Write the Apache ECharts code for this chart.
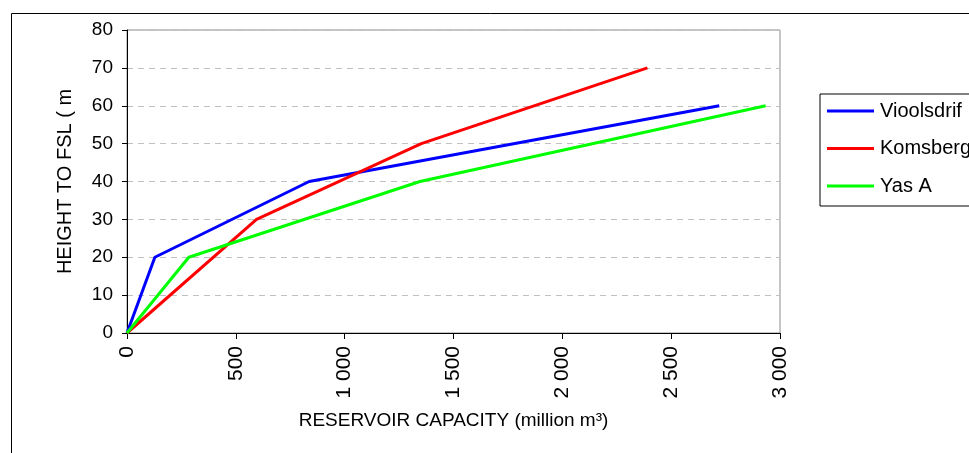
<!DOCTYPE html>
<html>
<head>
<meta charset="utf-8">
<script src="https://cdn.jsdelivr.net/npm/echarts@6/dist/echarts.min.js"></script>
<style>html,body{margin:0;padding:0;background:#fff;}#c{width:969px;height:453px;}</style>
</head>
<body>
<div id="c"></div>
<script>
const seriesNames = ['Vioolsdrif', 'Komsberg', 'Yas A'];
const vioolsdrifCapacity = [0, 128, 837, 2721];
const vioolsdrifHeight = [0, 20, 40, 60];
const komsbergCapacity = [0, 595, 1352, 2391];
const komsbergHeight = [0, 30, 50, 70];
const yasCapacity = [0, 284, 1346, 2934];
const yasHeight = [0, 20, 40, 60];
const xTitle = 'RESERVOIR CAPACITY (million m³)';
const yTitle = 'HEIGHT TO FSL ( m';

const pairs = (xs, ys) => xs.map((x, i) => [x, ys[i]]);
const colors = ['#0000ff', '#ff0000', '#00ff00'];
const datasets = [
  pairs(vioolsdrifCapacity, vioolsdrifHeight),
  pairs(komsbergCapacity, komsbergHeight),
  pairs(yasCapacity, yasHeight)
];
const font = 'Liberation Sans, Arial, sans-serif';

const chart = echarts.init(document.getElementById('c'), null, {renderer: 'canvas'});
chart.setOption({
  animation: false,
  backgroundColor: '#fff',
  graphic: [{
    type: 'rect', left: 9, top: 11, z: -10,
    shape: {width: 1000, height: 500},
    style: {fill: 'none', stroke: '#000', lineWidth: 1}
  }],
  grid: {left: 127, right: 189, top: 30, bottom: 120, show: true, borderColor: '#8c8c8c', borderWidth: 1, backgroundColor: 'transparent'},
  legend: {
    orient: 'vertical', left: 820, top: 94,
    data: seriesNames.map(n => ({name: n, icon: 'path://M0 0H47V3H0Z'})),
    padding: [6, 40, 9, 7],
    itemGap: 15.5, itemWidth: 47, itemHeight: 3,
    borderColor: '#000', borderWidth: 1,
    textStyle: {fontFamily: font, fontSize: 20, color: '#000', lineHeight: 22, padding: [0, 0, 0, 1]}
  },
  xAxis: {
    type: 'value', min: 0, max: 3000, interval: 500,
    name: xTitle, nameLocation: 'middle', nameGap: 78,
    nameTextStyle: {fontFamily: font, fontSize: 19, color: '#000'},
    axisLine: {show: true, onZero: false, lineStyle: {color: '#000', width: 1}},
    axisTick: {show: true, length: 6, lineStyle: {color: '#000'}},
    axisLabel: {
      rotate: 90, margin: 13, fontFamily: font, fontSize: 21, color: '#000',
      formatter: v => String(v).replace(/\B(?=(\d{3})+(?!\d))/g, ' ')
    },
    splitLine: {show: false}
  },
  yAxis: {
    type: 'value', min: 0, max: 80, interval: 10,
    name: yTitle, nameLocation: 'middle', nameGap: 52,
    nameTextStyle: {fontFamily: font, fontSize: 20, color: '#000'},
    axisLine: {show: true, lineStyle: {color: '#000', width: 1}},
    axisTick: {show: true, length: 5, lineStyle: {color: '#000'}},
    axisLabel: {margin: 14, fontFamily: font, fontSize: 19, color: '#000'},
    splitLine: {show: true, lineStyle: {color: '#c0c0c0', type: [6, 5], width: 1}}
  },
  series: seriesNames.map((n, i) => ({
    name: n, type: 'line', data: datasets[i],
    symbol: 'none', lineStyle: {color: colors[i], width: 3},
    itemStyle: {color: colors[i]}
  }))
});
</script>
</body>
</html>
